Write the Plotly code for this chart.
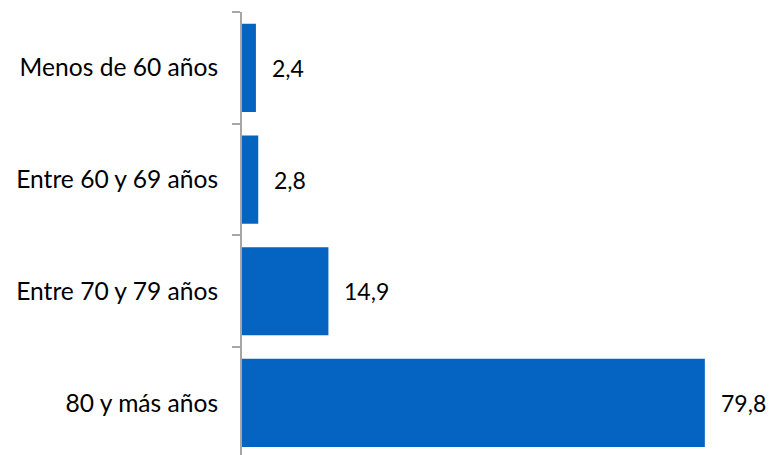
import plotly.graph_objects as go

# Age groups and their share (%)
categories = ["Menos de 60 años", "Entre 60 y 69 años", "Entre 70 y 79 años", "80 y más años"]
values = [2.4, 2.8, 14.9, 79.8]
labels = ["2,4", "2,8", "14,9", "79,8"]

BAR_COLOR = "#0563C1"
FONT = "Lato"

fig = go.Figure(
    go.Bar(
        x=values,
        y=categories,
        orientation="h",
        marker=dict(color=BAR_COLOR, line=dict(width=0)),
        width=0.79,
        hoverinfo="skip",
    )
)

# value labels to the right of each bar
for cat, v, lab in zip(categories, values, labels):
    fig.add_annotation(
        x=v, y=cat, text=lab, showarrow=False,
        xanchor="left", xshift=14, yanchor="middle",
        font=dict(family=FONT, size=23, color="#000000"),
    )

fig.update_layout(
    width=772, height=455,
    margin=dict(l=242, r=8, t=12, b=0),
    paper_bgcolor="white", plot_bgcolor="white",
    showlegend=False,
    bargap=0.21,
    xaxis=dict(range=[0, 90], visible=False, fixedrange=True),
    yaxis=dict(
        categoryorder="array", categoryarray=categories,
        range=[3.466, -0.5],
        showline=True, linecolor="#A6A6A6", linewidth=2,
        ticks="outside", tickson="boundaries", ticklen=8, tickwidth=2, tickcolor="#A6A6A6",
        ticklabelstandoff=17,
        tickfont=dict(family=FONT, size=24.6, color="#000000"),
        showgrid=False, zeroline=False,
    ),
)

fig.write_html("out.html")
